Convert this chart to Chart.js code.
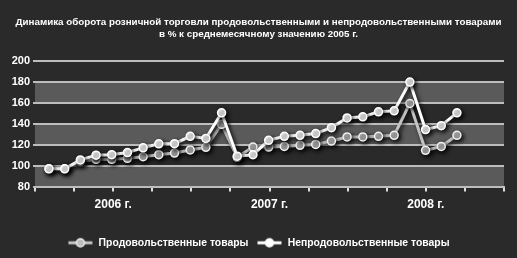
<!DOCTYPE html>
<html>
<head>
<meta charset="utf-8">
<script src="https://cdn.jsdelivr.net/npm/chart.js@4.4.1/dist/chart.umd.min.js"></script>
<style>
  html, body { margin: 0; padding: 0; background: #2a2a2a; }
  #wrap { width: 517px; height: 258px; }
</style>
</head>
<body>
<div id="wrap"><canvas id="c" width="517" height="258"></canvas></div>
<script>
// Months: Jan 2006 .. Mar 2008
const months = [
  '01.2006','02.2006','03.2006','04.2006','05.2006','06.2006','07.2006','08.2006','09.2006','10.2006','11.2006','12.2006',
  '01.2007','02.2007','03.2007','04.2007','05.2007','06.2007','07.2007','08.2007','09.2007','10.2007','11.2007','12.2007',
  '01.2008','02.2008','03.2008'
];
const foodValues = [97, 97, 104, 106, 106, 107, 108.5, 110.5, 112, 115, 117.5, 139.5,
                    108, 117.7, 117.7, 118.4, 119.4, 120.3, 123.5, 127.4, 127.4, 128, 129, 159.4,
                    114.6, 118.4, 129];
const nonFoodValues = [97, 97, 105.5, 110, 110.5, 112.5, 117, 120.8, 121, 128, 126, 150.4,
                       109, 110.4, 124.2, 128, 129, 130.6, 136.3, 145.6, 146.6, 151.4, 152.3, 179.8,
                       134.4, 138.2, 150.4];
const seriesNames = ['Продовольственные товары', 'Непродовольственные товары'];
const xTickLabels = ['', '', '2006 г.', '', '', '', '2007 г.', '', '', '', '2008 г.', '', ''];
const yTicks = [80, 100, 120, 140, 160, 180, 200];
const titleLines = [
  'Динамика оборота розничной торговли продовольственными и непродовольственными товарами',
  'в % к среднемесячному значению 2005 г.'
];
const bandRanges = [[80, 100], [120, 140], [160, 180]];

const FONT = '"Liberation Sans", Arial, sans-serif';
const BG = '#2a2a2a';

function legendIcon(lineColor, fill, border) {
  const c = document.createElement('canvas');
  c.width = 26; c.height = 12;
  const g = c.getContext('2d');
  g.strokeStyle = lineColor; g.lineWidth = 3;
  g.beginPath(); g.moveTo(1, 6); g.lineTo(25, 6); g.stroke();
  g.beginPath(); g.arc(13, 6, 4, 0, Math.PI * 2);
  g.fillStyle = fill; g.fill();
  g.strokeStyle = border; g.lineWidth = 1.5; g.stroke();
  return c;
}
const icons = [legendIcon('#c4c4c4', '#bdbdbd', '#f0f0f0'), legendIcon('#ffffff', '#ffffff', '#ffffff')];

const bgPlugin = {
  id: 'bgBands',
  beforeDraw(chart) {
    const {ctx, chartArea, scales} = chart;
    ctx.save();
    ctx.fillStyle = BG;
    ctx.fillRect(0, 0, chart.width, chart.height);
    ctx.fillStyle = '#5a5a5a';
    bandRanges.forEach(([a, b]) => {
      const y1 = scales.y.getPixelForValue(b);
      const y2 = scales.y.getPixelForValue(a);
      ctx.fillRect(chartArea.left, y1, chartArea.right - chartArea.left, y2 - y1);
    });
    ctx.restore();
  }
};
const shadowPlugin = {
  id: 'lineShadow',
  beforeDatasetsDraw(chart) {
    const ctx = chart.ctx;
    ctx.save();
    ctx.shadowColor = 'rgba(0,0,0,0.85)';
    ctx.shadowBlur = 4;
    ctx.shadowOffsetX = 2;
    ctx.shadowOffsetY = 2;
  },
  afterDatasetsDraw(chart) {
    chart.ctx.restore();
  }
};

const toPoints = arr => arr.map((v, i) => ({x: i, y: v}));

new Chart(document.getElementById('c'), {
  type: 'line',
  data: {
    labels: months,
    datasets: [
      {
        label: seriesNames[0],
        data: toPoints(foodValues),
        borderColor: '#c4c4c4',
        backgroundColor: '#bdbdbd',
        pointBackgroundColor: '#bdbdbd',
        pointBorderColor: '#f0f0f0',
        pointBorderWidth: 1.5,
        pointRadius: 4,
        borderWidth: 3,
        tension: 0,
        order: 1
      },
      {
        label: seriesNames[1],
        data: toPoints(nonFoodValues),
        borderColor: '#ffffff',
        backgroundColor: '#ffffff',
        pointBackgroundColor: '#ffffff',
        pointBorderColor: '#ffffff',
        pointBorderWidth: 1.5,
        pointRadius: 4,
        borderWidth: 3,
        tension: 0,
        order: 0
      }
    ]
  },
  options: {
    responsive: false,
    animation: false,
    layout: { padding: 0 },
    plugins: {
      tooltip: { enabled: false },
      title: {
        display: true,
        text: titleLines,
        color: '#ffffff',
        font: { family: FONT, size: 9.8, weight: 'bold', lineHeight: 1.22 },
        padding: { top: 16, bottom: 21 }
      },
      legend: {
        position: 'bottom',
        labels: {
          color: '#ffffff',
          font: { family: FONT, size: 10.4, weight: 'bold' },
          usePointStyle: true,
          pointStyleWidth: 26,
          padding: 8,
          generateLabels(chart) {
            return seriesNames.map((name, i) => ({
              text: name,
              pointStyle: icons[i],
              fontColor: '#ffffff',
              datasetIndex: i,
              hidden: false,
              lineWidth: 0,
              strokeStyle: 'transparent',
              fillStyle: 'transparent'
            }));
          }
        }
      }
    },
    scales: {
      x: {
        type: 'linear',
        min: -0.89,
        max: 29.0,
        afterFit(axis) { axis.height = 43; },
        afterBuildTicks(axis) {
          const n = xTickLabels.length - 1;
          const step = (axis.max - axis.min) / n;
          axis.ticks = xTickLabels.map((_, k) => ({ value: axis.min + k * step }));
        },
        ticks: {
          autoSkip: false,
          maxRotation: 0,
          color: '#ffffff',
          padding: 6,
          font: { family: FONT, size: 12, weight: 'bold' },
          callback: (v, i) => xTickLabels[i]
        },
        grid: { drawOnChartArea: false, color: '#dddddd', lineWidth: 2, tickLength: 5 },
        border: { display: true, color: '#bdbdbd', width: 2 }
      },
      y: {
        min: 80,
        max: 200,
        afterFit(axis) { axis.width = 35; },
        afterBuildTicks(axis) { axis.ticks = yTicks.map(v => ({ value: v })); },
        ticks: {
          color: '#ffffff',
          padding: 3,
          font: { family: FONT, size: 11, weight: 'bold' }
        },
        grid: { color: '#bdbdbd', lineWidth: 2, tickLength: 2 },
        border: { display: false }
      },
      yRightSpace: {
        type: 'linear',
        position: 'right',
        min: 80,
        max: 200,
        afterFit(axis) { axis.width = 13; },
        ticks: { display: false },
        grid: { display: false, drawOnChartArea: false },
        border: { display: false }
      }
    }
  },
  plugins: [bgPlugin, shadowPlugin]
});
</script>
</body>
</html>
